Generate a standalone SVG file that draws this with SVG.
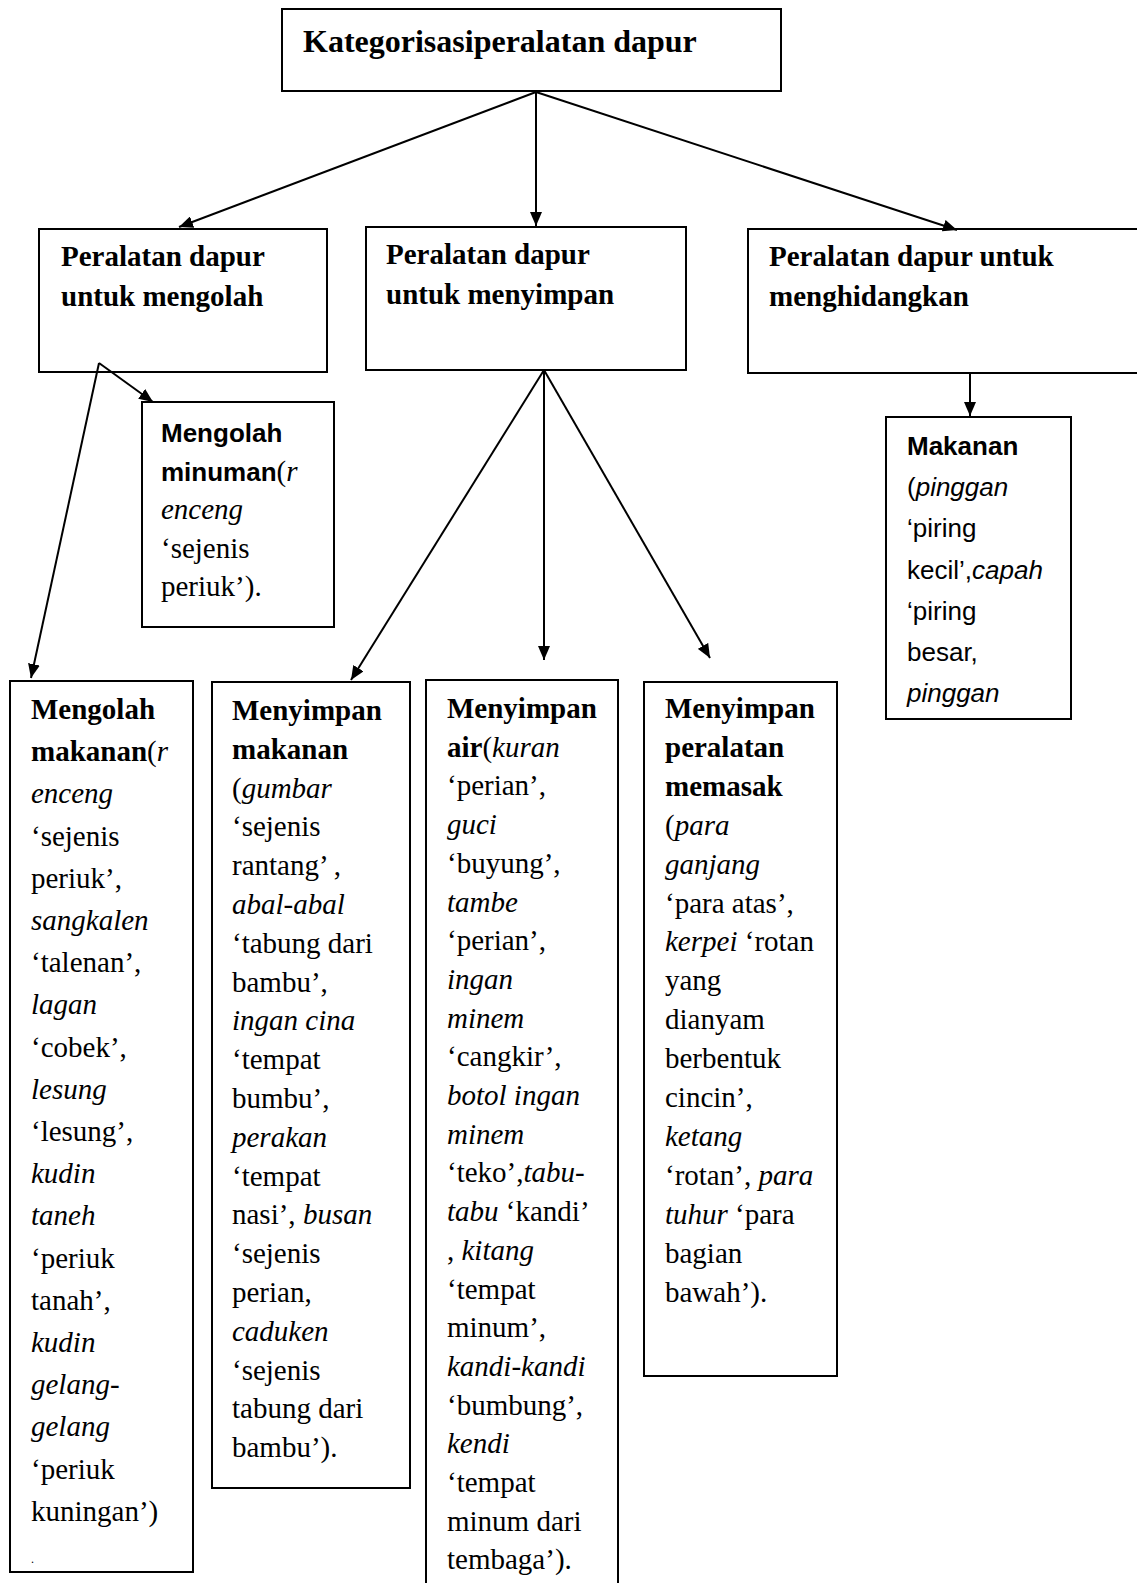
<svg xmlns="http://www.w3.org/2000/svg" width="1137" height="1583" viewBox="0 0 1137 1583">
<style>
rect{fill:#fff;stroke:#000;stroke-width:2}
.t{font-family:"Liberation Serif","Times New Roman",serif;font-size:29px;fill:#000}
.s{font-family:"Liberation Sans",Arial,sans-serif;font-size:26px;fill:#000}
.ti{font-family:"Liberation Serif","Times New Roman",serif;font-size:32px;font-weight:bold;fill:#000}
.b{font-weight:bold}
.i{font-style:italic}
.sr{font-family:"Liberation Serif","Times New Roman",serif;font-size:29px}
.c line{stroke:#000;stroke-width:2;marker-end:url(#ah)}
</style>
<defs>
<marker id="ah" markerUnits="userSpaceOnUse" markerWidth="14" markerHeight="12" refX="14" refY="6" orient="auto">
<path d="M0,0 L14,6 L0,12 z" fill="#000"/>
</marker>
</defs>
<rect x="0" y="0" width="1137" height="1583" style="stroke:none"/>

<g id="n-root">
<rect x="282" y="9" width="499" height="82"/>
<text class="ti" x="303" y="52">Kategorisasiperalatan dapur</text>
</g>

<g id="n-mengolah">
<rect x="39" y="229" width="288" height="143"/>
<text class="t b" x="61" y="266">Peralatan dapur</text>
<text class="t b" x="61" y="306">untuk mengolah</text>
</g>

<g id="n-menyimpan">
<rect x="366" y="227" width="320" height="143"/>
<text class="t b" x="386" y="264">Peralatan dapur</text>
<text class="t b" x="386" y="304">untuk menyimpan</text>
</g>

<g id="n-menghidangkan">
<rect x="748" y="229" width="395" height="144"/>
<text class="t b" x="769" y="266">Peralatan dapur untuk</text>
<text class="t b" x="769" y="306">menghidangkan</text>
</g>

<g id="n-minuman">
<rect x="142" y="402" width="192" height="225"/>
<text class="s b" x="161" y="442">Mengolah</text>
<text class="s" x="161" y="480.5"><tspan class="b">minuman</tspan><tspan class="sr">(</tspan><tspan class="sr i">r</tspan></text>
<text class="t i" x="161" y="519">enceng</text>
<text class="t" x="161" y="557.5">‘sejenis</text>
<text class="t" x="161" y="596">periuk’).</text>
</g>

<g id="n-makanan-saji">
<rect x="886" y="417" width="185" height="302"/>
<text class="s b" x="907" y="455">Makanan</text>
<text class="s" x="907" y="496.2">(<tspan class="i">pinggan</tspan></text>
<text class="s" x="907" y="537.4">‘piring</text>
<text class="s" x="907" y="578.6">kecil’,<tspan class="i">capah</tspan></text>
<text class="s" x="907" y="619.8">‘piring</text>
<text class="s" x="907" y="661">besar,</text>
<text class="s i" x="907" y="702.2">pinggan</text>
</g>

<g id="n-makanan-olah">
<rect x="10" y="681" width="183" height="891"/>
<text class="t b" x="31" y="719">Mengolah</text>
<text class="t" x="31" y="761.2"><tspan class="b">makanan</tspan>(<tspan class="i">r</tspan></text>
<text class="t i" x="31" y="803.4">enceng</text>
<text class="t" x="31" y="845.6">‘sejenis</text>
<text class="t" x="31" y="887.8">periuk’,</text>
<text class="t i" x="31" y="930">sangkalen</text>
<text class="t" x="31" y="972.2">‘talenan’,</text>
<text class="t i" x="31" y="1014.4">lagan</text>
<text class="t" x="31" y="1056.6">‘cobek’,</text>
<text class="t i" x="31" y="1098.8">lesung</text>
<text class="t" x="31" y="1141">‘lesung’,</text>
<text class="t i" x="31" y="1183.2">kudin</text>
<text class="t i" x="31" y="1225.4">taneh</text>
<text class="t" x="31" y="1267.6">‘periuk</text>
<text class="t" x="31" y="1309.8">tanah’,</text>
<text class="t i" x="31" y="1352">kudin</text>
<text class="t i" x="31" y="1394.2">gelang-</text>
<text class="t i" x="31" y="1436.4">gelang</text>
<text class="t" x="31" y="1478.6">‘periuk</text>
<text class="t" x="31" y="1520.8">kuningan’)</text>
<text class="t" x="31" y="1563" style="font-size:12px">.</text>
</g>

<g id="n-simpan-makanan">
<rect x="212" y="682" width="198" height="806"/>
<text class="t b" x="232" y="720">Menyimpan</text>
<text class="t b" x="232" y="758.8">makanan</text>
<text class="t" x="232" y="797.6">(<tspan class="i">gumbar</tspan></text>
<text class="t" x="232" y="836.4">‘sejenis</text>
<text class="t" x="232" y="875.2">rantang’ ,</text>
<text class="t i" x="232" y="914">abal-abal</text>
<text class="t" x="232" y="952.8">‘tabung dari</text>
<text class="t" x="232" y="991.6">bambu’,</text>
<text class="t i" x="232" y="1030.4">ingan cina</text>
<text class="t" x="232" y="1069.2">‘tempat</text>
<text class="t" x="232" y="1108">bumbu’,</text>
<text class="t i" x="232" y="1146.8">perakan</text>
<text class="t" x="232" y="1185.6">‘tempat</text>
<text class="t" x="232" y="1224.4">nasi’, <tspan class="i">busan</tspan></text>
<text class="t" x="232" y="1263.2">‘sejenis</text>
<text class="t" x="232" y="1302">perian,</text>
<text class="t i" x="232" y="1340.8">caduken</text>
<text class="t" x="232" y="1379.6">‘sejenis</text>
<text class="t" x="232" y="1418.4">tabung dari</text>
<text class="t" x="232" y="1457.2">bambu’).</text>
</g>

<g id="n-simpan-air">
<rect x="426" y="680" width="192" height="915"/>
<text class="t b" x="447" y="718">Menyimpan</text>
<text class="t" x="447" y="756.7"><tspan class="b">air</tspan>(<tspan class="i">kuran</tspan></text>
<text class="t" x="447" y="795.4">‘perian’,</text>
<text class="t i" x="447" y="834.1">guci</text>
<text class="t" x="447" y="872.8">‘buyung’,</text>
<text class="t i" x="447" y="911.5">tambe</text>
<text class="t" x="447" y="950.2">‘perian’,</text>
<text class="t i" x="447" y="988.9">ingan</text>
<text class="t i" x="447" y="1027.6">minem</text>
<text class="t" x="447" y="1066.3">‘cangkir’,</text>
<text class="t i" x="447" y="1105">botol ingan</text>
<text class="t i" x="447" y="1143.7">minem</text>
<text class="t" x="447" y="1182.4">‘teko’,<tspan class="i">tabu-</tspan></text>
<text class="t" x="447" y="1221.1"><tspan class="i">tabu</tspan> ‘kandi’</text>
<text class="t" x="447" y="1259.8">, <tspan class="i">kitang</tspan></text>
<text class="t" x="447" y="1298.5">‘tempat</text>
<text class="t" x="447" y="1337.2">minum’,</text>
<text class="t i" x="447" y="1375.9">kandi-kandi</text>
<text class="t" x="447" y="1414.6">‘bumbung’,</text>
<text class="t i" x="447" y="1453.3">kendi</text>
<text class="t" x="447" y="1492">‘tempat</text>
<text class="t" x="447" y="1530.7">minum dari</text>
<text class="t" x="447" y="1569.4">tembaga’).</text>
</g>

<g id="n-simpan-alat">
<rect x="644" y="682" width="193" height="694"/>
<text class="t b" x="665" y="718">Menyimpan</text>
<text class="t b" x="665" y="756.9">peralatan</text>
<text class="t b" x="665" y="795.8">memasak</text>
<text class="t" x="665" y="834.7">(<tspan class="i">para</tspan></text>
<text class="t i" x="665" y="873.6">ganjang</text>
<text class="t" x="665" y="912.5">‘para atas’,</text>
<text class="t" x="665" y="951.4"><tspan class="i">kerpei</tspan> ‘rotan</text>
<text class="t" x="665" y="990.3">yang</text>
<text class="t" x="665" y="1029.2">dianyam</text>
<text class="t" x="665" y="1068.1">berbentuk</text>
<text class="t" x="665" y="1107">cincin’,</text>
<text class="t i" x="665" y="1145.9">ketang</text>
<text class="t" x="665" y="1184.8">‘rotan’, <tspan class="i">para</tspan></text>
<text class="t" x="665" y="1223.7"><tspan class="i">tuhur</tspan> ‘para</text>
<text class="t" x="665" y="1262.6">bagian</text>
<text class="t" x="665" y="1301.5">bawah’).</text>
</g>

<g id="connectors" class="c">
<line x1="536" y1="92" x2="179" y2="227"/>
<line x1="536" y1="92" x2="536" y2="226"/>
<line x1="536" y1="92" x2="957" y2="230"/>
<line x1="99" y1="363" x2="153" y2="402"/>
<line x1="99" y1="363" x2="31" y2="678"/>
<line x1="544" y1="370" x2="351" y2="680"/>
<line x1="544" y1="370" x2="544" y2="660"/>
<line x1="544" y1="370" x2="710" y2="658"/>
<line x1="970" y1="373" x2="970" y2="416"/>
</g>
</svg>
